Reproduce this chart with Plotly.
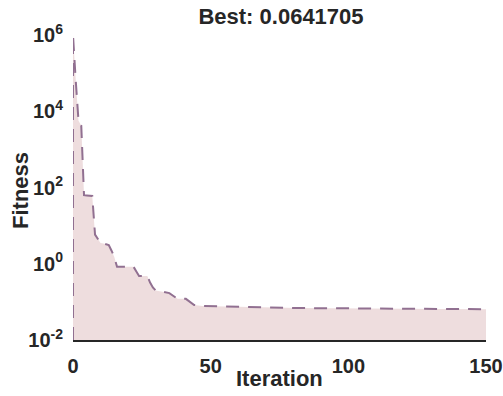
import plotly.graph_objects as go

# Data (step-wise best fitness per iteration)
iterations = [0, 1, 2, 3, 4, 5, 6, 7, 8, 9, 10, 11, 12, 13, 14, 15, 16, 22, 23, 24, 27, 28, 29, 30,
              35, 36, 37, 38, 41, 42, 43, 44, 47, 68, 82, 120, 150]
fitness = [1.0e6, 6.3e4, 5.6e3, 4.2e3, 63, 62, 61, 60, 5.8, 4.5, 3.5, 3.4, 3.3, 3.1, 2.2, 1.5,
           0.83, 0.83, 0.63, 0.48, 0.48, 0.32, 0.24, 0.20, 0.17, 0.15, 0.13, 0.12, 0.12, 0.105,
           0.095, 0.083, 0.078, 0.074, 0.069, 0.066, 0.0641705]
baseline = 1e-2
ytick_vals = [1e-2, 1e0, 1e2, 1e4, 1e6]
ytick_text = ["10<sup>-2</sup>", "10<sup>0</sup>", "10<sup>2</sup>", "10<sup>4</sup>", "10<sup>6</sup>"]
xtick_vals = [0, 50, 100, 150]
title_text = "Best: 0.0641705"

fill_color = "rgb(238,221,222)"
line_color = "rgb(145,112,145)"
text_color = "#262626"

fig = go.Figure()
fig.add_trace(go.Scatter(
    x=[iterations[0]] + iterations + [iterations[-1]],
    y=[baseline] + fitness + [baseline],
    fill="toself", fillcolor=fill_color, mode="lines",
    line=dict(width=0, color=fill_color), hoverinfo="skip", showlegend=False))
fig.add_trace(go.Scatter(
    x=[iterations[0]] + iterations,
    y=[baseline] + fitness,
    mode="lines", line=dict(color=line_color, width=2, dash="13px,9px"),
    showlegend=False))

font_tick = dict(family="Liberation Sans, Arial, sans-serif", size=20, color=text_color, weight="bold")
font_lab = dict(family="Liberation Sans, Arial, sans-serif", size=22, color=text_color, weight="bold")

fig.update_layout(
    width=503, height=396,
    margin=dict(l=73, r=17, t=35, b=56),
    paper_bgcolor="white", plot_bgcolor="white",
    title=dict(text=title_text, x=281 / 503, xref="container", y=1 - 16 / 396, yref="container",
               xanchor="center", yanchor="middle", font=font_lab, automargin=False),
    xaxis=dict(range=[0, 150], tickvals=xtick_vals, showgrid=False, zeroline=False,
               showline=True, linecolor=text_color, linewidth=2, ticks="",
               tickfont=font_tick, ticklabelstandoff=7, automargin=False),
    yaxis=dict(type="log", range=[-2, 6], tickvals=ytick_vals, ticktext=ytick_text,
               showgrid=False, zeroline=False, showline=False, ticks="",
               tickfont=font_tick, ticklabelstandoff=9, automargin=False),
    annotations=[
        dict(text="Iteration", xref="paper", yref="paper", x=0.5, y=(340 - 378) / 305,
             xanchor="center", yanchor="middle", showarrow=False, font=font_lab),
        dict(text="Fitness", xref="paper", yref="paper", x=(20 - 73) / 413, y=(340 - 191) / 305,
             xanchor="center", yanchor="middle", showarrow=False, textangle=-90, font=font_lab),
    ],
)

fig.write_html("out.html")
